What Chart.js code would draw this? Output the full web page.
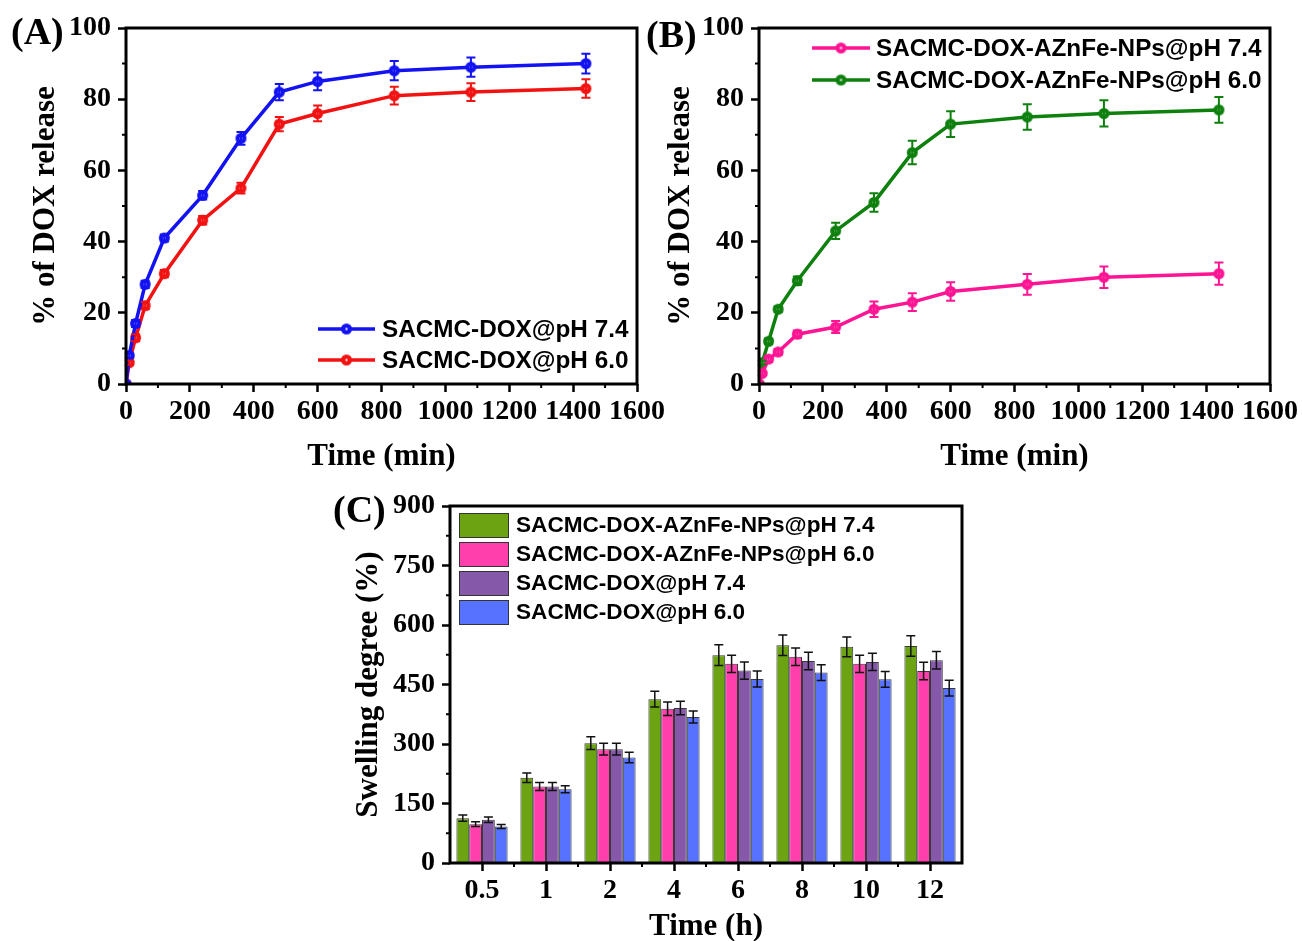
<!DOCTYPE html>
<html>
<head>
<meta charset="utf-8">
<script src="https://cdn.jsdelivr.net/npm/chart.js@4.4.0/dist/chart.umd.min.js"></script>
<style>
html, body { margin: 0; padding: 0; background: #fff; overflow: hidden; width: 1302px; height: 941px; }
canvas { position: absolute; }
</style>
</head>
<body>
<canvas id="chartA" width="664" height="480" style="left:0;top:0"></canvas>
<canvas id="chartB" width="662" height="480" style="left:640px;top:0"></canvas>
<canvas id="chartC" width="680" height="470" style="left:320px;top:480px"></canvas>
<script>
// release time points (min)
const timeMin = [0, 10, 30, 60, 120, 240, 360, 480, 600, 840, 1080, 1440];

// panel A: SACMC-DOX
const relA74 = [0, 8, 17, 28, 41, 53, 69, 82, 85, 88, 89, 90];
const errA74 = [0, 0.6, 1, 1, 1, 1.2, 1.8, 2.3, 2.5, 2.7, 2.7, 2.8];
const relA60 = [0, 6, 13, 22, 31, 46, 55, 73, 76, 81, 82, 83];
const errA60 = [0, 0.6, 1, 1, 1, 1.2, 1.5, 2, 2.2, 2.5, 2.5, 2.6];

// panel B: SACMC-DOX-AZnFe-NPs
const relB74 = [0, 3, 7, 9, 14, 16, 21, 23, 26, 28, 30, 31];
const errB74 = [0, 0.5, 0.8, 0.8, 1, 1.7, 2.2, 2.5, 2.6, 2.9, 3, 3.1];
const relB60 = [0, 6, 12, 21, 29, 43, 51, 65, 73, 75, 76, 77];
const errB60 = [0, 0.5, 0.8, 0.8, 1.2, 2.3, 2.6, 3.3, 3.6, 3.6, 3.7, 3.6];

// panel C: swelling degree (%)
const hours = ['0.5', '1', '2', '4', '6', '8', '10', '12'];
const swNP74 = [113, 215, 302, 413, 524, 549, 545, 547];
const eNP74  = [8, 12, 16, 20, 26, 26, 25, 26];
const swNP60 = [98, 193, 287, 389, 502, 520, 502, 484];
const eNP60  = [6, 10, 15, 17, 22, 22, 22, 22];
const swD74  = [109, 193, 287, 391, 485, 509, 507, 511];
const eD74   = [7, 10, 15, 17, 22, 22, 22, 22];
const swD60  = [92, 186, 266, 368, 464, 480, 463, 441];
const eD60   = [5, 9, 13, 15, 20, 20, 20, 20];

const tickFont = { family: 'Liberation Serif', size: 28, weight: 'bold', lineHeight: 1.2 };
const titleFont = { family: 'Liberation Serif', size: 31, weight: 'bold', lineHeight: 1.2 };

// little shaded ball like origin's markers
function ball(color, r) {
  const c = document.createElement('canvas');
  const s = r * 2 + 2;
  c.width = s; c.height = s;
  const g = c.getContext('2d');
  const grd = g.createRadialGradient(s / 2, s / 2, 0.3, s / 2, s / 2, r);
  grd.addColorStop(0, '#f4f4f4');
  grd.addColorStop(0.3, color);
  grd.addColorStop(1, color);
  g.fillStyle = grd;
  g.beginPath();
  g.arc(s / 2, s / 2, r, 0, Math.PI * 2);
  g.fill();
  return c;
}

const extras = {
  id: 'extras',
  afterDatasetsDraw(chart, args, opts) {
    const ctx = chart.ctx;
    const ys = chart.scales.y;
    chart.data.datasets.forEach((ds, i) => {
      if (!ds.errors) return;
      const meta = chart.getDatasetMeta(i);
      ctx.save();
      ctx.strokeStyle = opts.errColor || ds.borderColor;
      ctx.lineWidth = opts.errWidth || 2;
      meta.data.forEach((el, j) => {
        const v = ds.data[j];
        const val = typeof v === 'object' ? v.y : v;
        const e = ds.errors[j];
        if (!e) return;
        const x = el.x;
        const y1 = ys.getPixelForValue(val + e);
        const y2 = ys.getPixelForValue(val - e);
        ctx.beginPath();
        ctx.moveTo(x, y1); ctx.lineTo(x, y2);
        ctx.moveTo(x - 4.5, y1); ctx.lineTo(x + 4.5, y1);
        ctx.moveTo(x - 4.5, y2); ctx.lineTo(x + 4.5, y2);
        ctx.stroke();
      });
      ctx.restore();
    });
  },
  afterDraw(chart, args, opts) {
    const ctx = chart.ctx;
    const a = chart.chartArea;
    const xs = chart.scales.x, ys = chart.scales.y;
    ctx.save();
    // frame
    ctx.strokeStyle = '#000';
    ctx.lineWidth = 3;
    ctx.strokeRect(a.left, a.top, a.right - a.left, a.bottom - a.top);
    // minor ticks
    ctx.lineWidth = 2;
    ctx.beginPath();
    (opts.minorY || []).forEach(v => {
      const p = ys.getPixelForValue(v);
      ctx.moveTo(a.left - 4, p); ctx.lineTo(a.left, p);
    });
    let mx = [];
    if (opts.minorX === 'between') {
      for (let i = 0; i < hours.length - 1; i++) {
        mx.push((xs.getPixelForValue(i) + xs.getPixelForValue(i + 1)) / 2);
      }
    } else {
      mx = (opts.minorX || []).map(v => xs.getPixelForValue(v));
    }
    mx.forEach(p => { ctx.moveTo(p, a.bottom); ctx.lineTo(p, a.bottom + 4); });
    ctx.stroke();
    // panel label
    ctx.fillStyle = '#000';
    ctx.font = 'bold 38px "Liberation Serif"';
    ctx.textBaseline = 'middle';
    ctx.textAlign = 'left';
    ctx.fillText(opts.label[0], opts.label[1], opts.label[2]);
    // legend
    const lg = opts.legend;
    ctx.font = lg.font;
    chart.data.datasets.forEach((ds, i) => {
      const yy = lg.rows[i];
      if (lg.type === 'line') {
        ctx.strokeStyle = ds.borderColor;
        ctx.lineWidth = 3.5;
        ctx.beginPath();
        ctx.moveTo(lg.x0, yy); ctx.lineTo(lg.x1, yy);
        ctx.stroke();
        const img = ds.pointStyle;
        ctx.drawImage(img, (lg.x0 + lg.x1) / 2 - img.width / 2, yy - img.height / 2);
        ctx.fillStyle = '#000';
        ctx.fillText(ds.label, lg.textX, yy + 1);
      } else {
        ctx.fillStyle = ds.backgroundColor;
        ctx.fillRect(lg.x, yy, lg.w, lg.h);
        ctx.strokeStyle = '#333';
        ctx.lineWidth = 1;
        ctx.strokeRect(lg.x + 0.5, yy + 0.5, lg.w, lg.h);
        ctx.fillStyle = '#000';
        ctx.fillText(ds.label, lg.textX, yy + lg.h / 2 + 1);
      }
    });
    ctx.restore();
  }
};

function tickOpts(pad, step) {
  const t = { font: tickFont, color: '#000', padding: pad, maxRotation: 0, autoSkip: false };
  if (step) {
    t.stepSize = step;
    t.callback = v => String(v);
  }
  return t;
}

function axisX(titleText, height, extra) {
  return Object.assign({
    ticks: tickOpts(3),
    grid: { drawOnChartArea: false, tickLength: 8, tickWidth: 2.5, tickColor: '#000' },
    border: { display: false },
    title: { display: true, text: titleText, font: titleFont, color: '#000', padding: { top: 0, bottom: 4 } },
    afterFit: s => { s.height = height; s.paddingLeft = 0; s.paddingRight = 0; }
  }, extra);
}
function axisY(titleText, width, titlePad, extra) {
  return Object.assign({
    grid: { drawOnChartArea: false, tickLength: 8, tickWidth: 2.5, tickColor: '#000' },
    border: { display: false },
    title: { display: true, text: titleText, font: titleFont, color: '#000', padding: { top: titlePad, bottom: 0 } },
    afterFit: s => { s.width = width; s.paddingTop = 0; s.paddingBottom = 0; }
  }, extra);
}

function curve(label, ys, errs, color) {
  return {
    label: label,
    data: timeMin.map((t, i) => ({ x: t, y: ys[i] })),
    errors: errs,
    borderColor: color,
    backgroundColor: color,
    borderWidth: 3.5,
    pointStyle: ball(color, 5.5),
    pointRadius: 6,
    tension: 0
  };
}

Chart.defaults.animation = false;

new Chart(document.getElementById('chartA'), {
  type: 'line',
  data: {
    datasets: [
      curve('SACMC-DOX@pH 7.4', relA74, errA74, '#1212f2'),
      curve('SACMC-DOX@pH 6.0', relA60, errA60, '#f21212')
    ]
  },
  options: {
    responsive: false, devicePixelRatio: 1,
    layout: { padding: { left: 0, top: 28, right: 27, bottom: 0 } },
    plugins: {
      legend: { display: false }, tooltip: { enabled: false },
      extras: {
        minorX: [100, 300, 500, 700, 900, 1100, 1300, 1500],
        minorY: [10, 30, 50, 70, 90],
        label: ['(A)', 11, 34],
        legend: { type: 'line', x0: 318, x1: 375, textX: 382, rows: [329, 360], font: 'bold 24.3px "Liberation Sans"' }
      }
    },
    scales: {
      x: axisX('Time (min)', 96, { type: 'linear', min: 0, max: 1600, ticks: tickOpts(3, 200) }),
      y: axisY('% of DOX release', 126, 27, { min: 0, max: 100, ticks: tickOpts(7, 20) })
    }
  },
  plugins: [extras]
});

new Chart(document.getElementById('chartB'), {
  type: 'line',
  data: {
    datasets: [
      curve('SACMC-DOX-AZnFe-NPs@pH 7.4', relB74, errB74, '#ff1493'),
      curve('SACMC-DOX-AZnFe-NPs@pH 6.0', relB60, errB60, '#0d800d')
    ]
  },
  options: {
    responsive: false, devicePixelRatio: 1,
    layout: { padding: { left: 0, top: 28, right: 32, bottom: 0 } },
    plugins: {
      legend: { display: false }, tooltip: { enabled: false },
      extras: {
        minorX: [100, 300, 500, 700, 900, 1100, 1300, 1500],
        minorY: [10, 30, 50, 70, 90],
        label: ['(B)', 6, 37],
        legend: { type: 'line', x0: 172, x1: 230, textX: 236, rows: [48, 80], font: 'bold 24.3px "Liberation Sans"' }
      }
    },
    scales: {
      x: axisX('Time (min)', 96, { type: 'linear', min: 0, max: 1600, ticks: tickOpts(3, 200) }),
      y: axisY('% of DOX release', 119, 22, { min: 0, max: 100, ticks: tickOpts(7, 20) })
    }
  },
  plugins: [extras]
});

function bars(label, vals, errs, color) {
  return {
    label: label, data: vals, errors: errs,
    backgroundColor: color, borderColor: '#3a3a3a', borderWidth: 1,
    categoryPercentage: 0.8, barPercentage: 1
  };
}

new Chart(document.getElementById('chartC'), {
  type: 'bar',
  data: {
    labels: hours,
    datasets: [
      bars('SACMC-DOX-AZnFe-NPs@pH 7.4', swNP74, eNP74, '#6ba312'),
      bars('SACMC-DOX-AZnFe-NPs@pH 6.0', swNP60, eNP60, '#ff3fab'),
      bars('SACMC-DOX@pH 7.4', swD74, eD74, '#8658a9'),
      bars('SACMC-DOX@pH 6.0', swD60, eD60, '#5672ff')
    ]
  },
  options: {
    responsive: false, devicePixelRatio: 1,
    layout: { padding: { left: 0, top: 26, right: 38, bottom: 0 } },
    plugins: {
      legend: { display: false }, tooltip: { enabled: false },
      extras: {
        minorX: 'between',
        minorY: [75, 225, 375, 525, 675, 825],
        errColor: '#111', errWidth: 1.5,
        label: ['(C)', 13, 32],
        legend: { type: 'box', x: 139, w: 49, h: 24, rows: [33, 62, 91, 120], textX: 196, font: 'bold 22.6px "Liberation Sans"' }
      }
    },
    scales: {
      x: axisX('Time (h)', 87, { type: 'category', offset: true, grid: { offset: false, drawOnChartArea: false, tickLength: 8, tickWidth: 2.5, tickColor: '#000' } }),
      y: axisY('Swelling degree (%)', 130, 30, { min: 0, max: 900, ticks: tickOpts(7, 150) })
    }
  },
  plugins: [extras]
});
</script>
</body>
</html>
